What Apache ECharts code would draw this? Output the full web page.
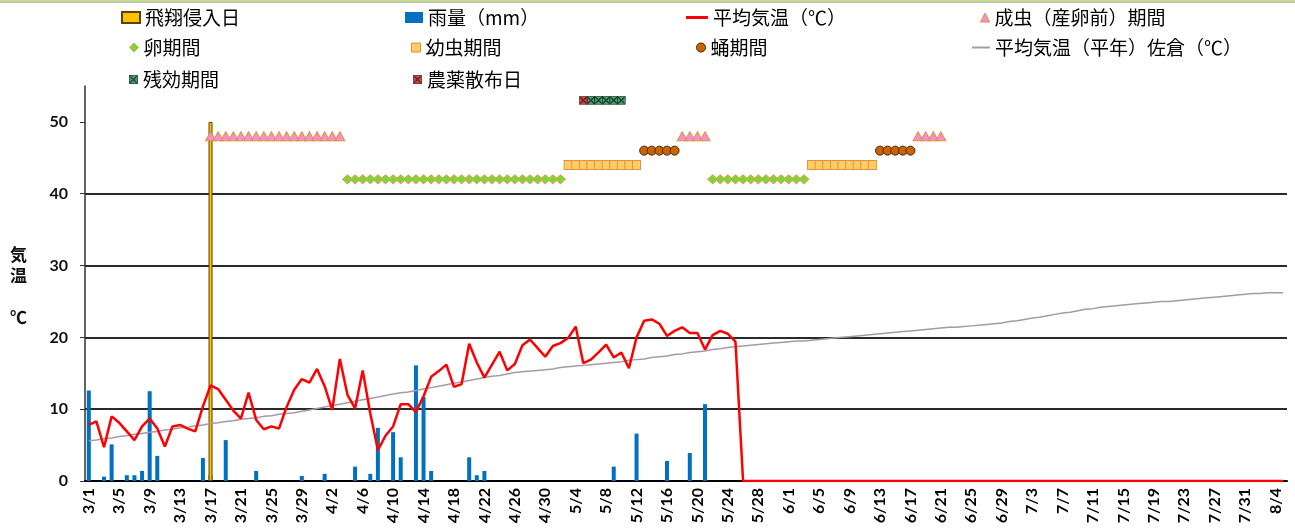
<!DOCTYPE html>
<html>
<head>
<meta charset="utf-8">
<script src="https://cdn.jsdelivr.net/npm/echarts@6/dist/echarts.min.js"></script>
<style>
  html, body { margin: 0; padding: 0; background: #fff; }
  #chart { width: 1295px; height: 530px; }
</style>
</head>
<body>
<div id="chart"></div>
<script>
// 日付（3/1〜8/5）
const monthDays = [[3, 31], [4, 30], [5, 31], [6, 30], [7, 31], [8, 5]]
const dates = []
monthDays.forEach(([m, n]) => {
  for (let d = 1; d <= n; d++) dates.push(m + '/' + d)
})

// 雨量(mm) 3/1〜5/25
const rain = [
  12.6, 0, 0.6, 5.1, 0, 0.8, 0.8, 1.4, 12.5, 3.5,
  0, 0, 0, 0, 0, 3.2, 0.8, 0, 5.7, 0,
  0, 0, 1.4, 0, 0, 0, 0, 0, 0.7, 0,
  0, 1.0, 0, 0, 0, 2.0, 0, 1.0, 7.4, 0,
  6.8, 3.3, 0, 16.1, 11.7, 1.4, 0, 0, 0, 0,
  3.3, 0.8, 1.4, 0, 0, 0, 0, 0, 0, 0,
  0, 0, 0, 0, 0, 0, 0, 0, 0, 2.0,
  0, 0, 6.6, 0, 0, 0, 2.8, 0, 0, 3.9,
  0, 10.7, 0, 0, 0, 0
]

// 平均気温(℃)
const temp = [
  7.8, 8.3, 4.7, 9.0, 8.1, 6.9, 5.7, 7.6, 8.7, 7.3,
  4.8, 7.6, 7.8, 7.3, 6.9, 10.4, 13.3, 12.8, 11.3, 9.8,
  8.7, 12.3, 8.5, 7.2, 7.6, 7.3, 10.3, 12.7, 14.2, 13.7,
  15.6, 13.2, 9.9, 17.0, 12.0, 10.1, 15.4, 9.4, 4.3, 6.3,
  7.6, 10.7, 10.7, 9.6, 11.8, 14.5, 15.3, 16.2, 13.1, 13.5,
  19.1, 16.5, 14.4, 16.2, 18.0, 15.4, 16.3, 18.9, 19.7, 18.5,
  17.3, 18.8, 19.2, 19.9, 21.5, 16.4, 16.9, 17.9, 19.0, 17.2,
  17.9, 15.7, 20.0, 22.3, 22.5, 21.9, 20.2, 20.9, 21.4, 20.6,
  20.6, 18.3, 20.3, 20.9, 20.5, 19.4, 0, 0, 0, 0,
  0, 0, 0, 0, 0, 0, 0, 0, 0, 0,
  0, 0, 0, 0, 0, 0, 0, 0, 0, 0,
  0, 0, 0, 0, 0, 0, 0, 0, 0, 0,
  0, 0, 0, 0, 0, 0, 0, 0, 0, 0,
  0, 0, 0, 0, 0, 0, 0, 0, 0, 0,
  0, 0, 0, 0, 0, 0, 0, 0, 0, 0,
  0, 0, 0, 0, 0, 0, 0, 0
]

// 平均気温(平年)佐倉(℃)
const tempNormal = [
  5.6, 5.7, 5.9, 6.0, 6.2, 6.3, 6.5, 6.6, 6.8, 6.9,
  7.1, 7.2, 7.4, 7.5, 7.7, 7.8, 8.0, 8.1, 8.3, 8.4,
  8.6, 8.7, 8.8, 9.0, 9.1, 9.3, 9.4, 9.5, 9.7, 9.9,
  10.1, 10.3, 10.5, 10.7, 10.9, 11.1, 11.3, 11.5, 11.7, 11.9,
  12.1, 12.3, 12.4, 12.6, 12.8, 13.0, 13.2, 13.4, 13.6, 13.8,
  14.0, 14.2, 14.4, 14.6, 14.7, 14.9, 15.1, 15.2, 15.3, 15.4,
  15.5, 15.6, 15.8, 15.9, 16.0, 16.1, 16.2, 16.3, 16.4, 16.5,
  16.6, 16.8, 16.9, 17.0, 17.2, 17.3, 17.4, 17.6, 17.7, 17.9,
  18.0, 18.1, 18.3, 18.4, 18.6, 18.7, 18.8, 18.9, 19.0, 19.1,
  19.2, 19.3, 19.4, 19.5, 19.5, 19.6, 19.7, 19.8, 19.9, 20.0,
  20.1, 20.2, 20.3, 20.4, 20.5, 20.6, 20.7, 20.8, 20.9, 21.0,
  21.1, 21.2, 21.3, 21.4, 21.4, 21.5, 21.6, 21.7, 21.8, 21.9,
  22.0, 22.2, 22.3, 22.5, 22.7, 22.8, 23.0, 23.2, 23.4, 23.5,
  23.7, 23.9, 24.0, 24.2, 24.3, 24.4, 24.5, 24.6, 24.7, 24.8,
  24.9, 25.0, 25.0, 25.1, 25.2, 25.3, 25.4, 25.5, 25.6, 25.7,
  25.8, 25.9, 26.0, 26.1, 26.1, 26.2, 26.2, 26.2
]

// 各ステージの期間 [開始, 終了]
const flightDays = ['3/17']
const adultPeriods = [['3/17', '4/3'], ['5/18', '5/21'], ['6/18', '6/21']]
const eggPeriods = [['4/4', '5/2'], ['5/22', '6/3']]
const larvaPeriods = [['5/3', '5/12'], ['6/4', '6/12']]
const pupaPeriods = [['5/13', '5/17'], ['6/13', '6/17']]
const sprayDays = ['5/5']
const residualPeriods = [['5/6', '5/10']]

const yTicks = [0, 10, 20, 30, 40, 50]

function periodPoints(periods, level) {
  const res = []
  periods.forEach(([s, e]) => {
    for (let i = dates.indexOf(s); i <= dates.indexOf(e); i++) res.push([dates[i], level])
  })
  return res
}

function crossMark(fill) {
  const svg = '<svg xmlns="http://www.w3.org/2000/svg" width="10" height="10">' +
    '<rect x="0.5" y="0.5" width="9" height="9" fill="' + fill + '" stroke="#1a1a1a" stroke-width="1"/>' +
    '<path d="M1.5 1.5L8.5 8.5M8.5 1.5L1.5 8.5" stroke="#000" stroke-width="1.4"/></svg>'
  return 'image://data:image/svg+xml;charset=utf-8,' + encodeURIComponent(svg)
}

// マーカーの見た目
const adultStyle = { color: '#f590d0', borderColor: '#e3913b', borderWidth: 1, opacity: 1 }
const pupaStyle = { color: '#c86404', borderColor: '#4a2500', borderWidth: 1, opacity: 1 }
const larvaStyle = { color: '#ffcc66', borderColor: '#e69138', borderWidth: 1, opacity: 1 }
const eggStyle = { color: '#6fdc3c', borderColor: '#e3a04a', borderWidth: 1, opacity: 1 }

const chart = echarts.init(document.getElementById('chart'))

const font = 'Noto Sans CJK JP'
function legendAt(name, left, top, w, h, icon, style) {
  const item = { name: name }
  if (icon) item.icon = icon
  if (style) item.itemStyle = style
  return {
    data: [item],
    left: left,
    top: top,
    padding: 0,
    itemWidth: w,
    itemHeight: h,
    selectedMode: false,
    textStyle: { fontFamily: font, fontSize: 19, color: '#000' }
  }
}

const option = {
  backgroundColor: '#fff',
  animation: false,
  graphic: [
    { type: 'rect', shape: { x: 0, y: 0, width: 1295, height: 2 }, style: { fill: '#c6dc8e' } },
    { type: 'rect', shape: { x: 0, y: 2, width: 1295, height: 1 }, style: { fill: '#b8b8b8' } },
    {
      type: 'text', left: 10, top: 244,
      style: { text: '気\n温\n\n℃', font: 'bold 17px "Noto Sans CJK JP"', lineHeight: 21, fill: '#111', align: 'center' }
    }
  ],
  legend: [
    legendAt('飛翔侵入日', 121, 8, 18, 11, 'rect'),
    legendAt('卵期間', 129, 38, 9, 9, 'diamond', eggStyle),
    legendAt('残効期間', 129, 70, 9, 9),
    legendAt('雨量（mm）', 405, 8, 18, 11, 'rect'),
    legendAt('幼虫期間', 411, 38, 9, 9, 'rect', larvaStyle),
    legendAt('農薬散布日', 413, 70, 9, 9),
    legendAt('平均気温（℃）', 686, 8, 22, 3, 'rect', { color: '#ff0000' }),
    legendAt('蛹期間', 696, 38, 9, 9, 'circle', pupaStyle),
    legendAt('成虫（産卵前）期間', 980, 8, 9, 9, 'triangle', adultStyle),
    legendAt('平均気温（平年）佐倉（℃）', 972, 38, 18, 2, 'rect', { color: '#a898aa' })
  ],
  grid: { left: 85, right: 8, top: 86, bottom: 49 },
  xAxis: {
    type: 'category',
    data: dates,
    boundaryGap: true,
    axisLine: { lineStyle: { color: '#000', width: 2 } },
    axisTick: { interval: 0, length: 6, lineStyle: { color: '#000', width: 1.5 } },
    axisLabel: {
      interval: 3, rotate: 90, margin: 7,
      fontFamily: 'Lato', fontWeight: 'bold', fontSize: 16, color: '#000'
    }
  },
  yAxis: {
    type: 'value',
    min: 0,
    max: 55,
    interval: 10,
    axisLine: { show: true, lineStyle: { color: '#333', width: 1.5 } },
    axisTick: { show: true, length: 5, customValues: yTicks, lineStyle: { color: '#333' } },
    axisLabel: {
      customValues: yTicks, margin: 17,
      fontFamily: 'Lato', fontWeight: 'bold', fontSize: 16, color: '#111'
    },
    splitLine: { lineStyle: { color: '#2a2a2a', width: 2 }, showMinLine: false, showMaxLine: false }
  },
  series: [
    {
      name: '雨量（mm）',
      type: 'bar',
      data: rain,
      barWidth: 4,
      barGap: '-100%',
      itemStyle: { color: '#0070c0' }
    },
    {
      name: '飛翔侵入日',
      type: 'bar',
      data: dates.map(d => (flightDays.includes(d) ? 50 : null)),
      barWidth: 4,
      barGap: '-100%',
      itemStyle: { color: '#ffc000', borderColor: '#5a4500', borderWidth: 1 }
    },
    {
      name: '平均気温（平年）佐倉（℃）',
      type: 'line',
      data: tempNormal,
      symbol: 'none',
      lineStyle: { color: '#a898aa', width: 1.5 },
      itemStyle: { color: '#a898aa' }
    },
    {
      name: '平均気温（℃）',
      type: 'line',
      data: temp,
      symbol: 'none',
      lineStyle: { color: '#ff0000', width: 2.5 },
      itemStyle: { color: '#ff0000' }
    },
    {
      name: '成虫（産卵前）期間',
      type: 'scatter',
      data: periodPoints(adultPeriods, 48),
      symbol: 'triangle',
      symbolSize: [10, 9],
      itemStyle: adultStyle
    },
    {
      name: '蛹期間',
      type: 'scatter',
      data: periodPoints(pupaPeriods, 46),
      symbol: 'circle',
      symbolSize: 9,
      itemStyle: pupaStyle
    },
    {
      name: '幼虫期間',
      type: 'scatter',
      data: periodPoints(larvaPeriods, 44),
      symbol: 'rect',
      symbolSize: [8, 9],
      itemStyle: larvaStyle
    },
    {
      name: '卵期間',
      type: 'scatter',
      data: periodPoints(eggPeriods, 42),
      symbol: 'diamond',
      symbolSize: [10, 9],
      itemStyle: eggStyle
    },
    {
      name: '残効期間',
      type: 'scatter',
      data: periodPoints(residualPeriods, 53),
      symbol: crossMark('#009a48'),
      symbolSize: 9
    },
    {
      name: '農薬散布日',
      type: 'scatter',
      data: sprayDays.map(d => [d, 53]),
      symbol: crossMark('#ff0000'),
      symbolSize: 9
    }
  ]
}

chart.setOption(option)
</script>
</body>
</html>
